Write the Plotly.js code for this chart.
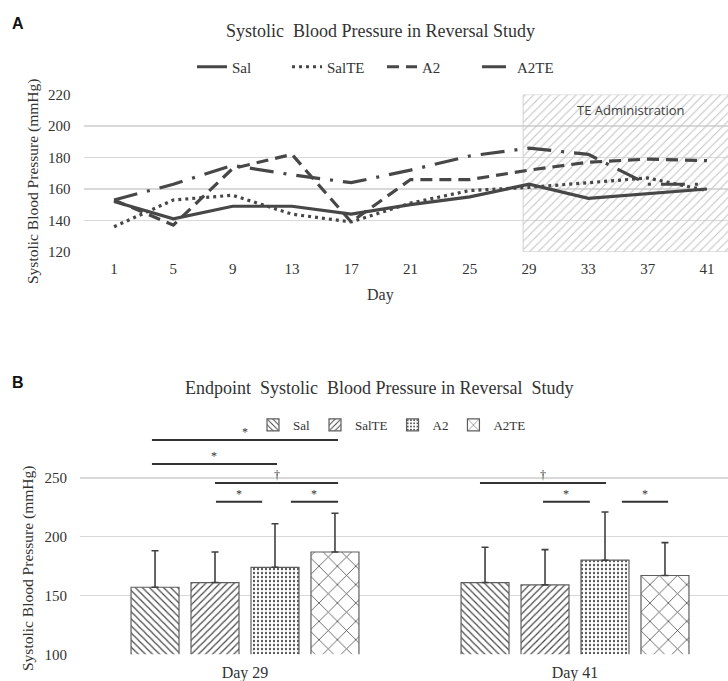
<!DOCTYPE html>
<html>
<head>
<meta charset="utf-8">
<script src="https://cdn.plot.ly/plotly-3.0.1.min.js"></script>
<style>html,body{margin:0;padding:0;background:#fff;}#chart{width:728px;height:681px;}</style>
</head>
<body>
<div id="chart"></div>
<script>
// ---------- Panel A data (line chart) ----------
const days   = [1, 5, 9, 13, 17, 21, 25, 29, 33, 37, 41];
const sal    = [152, 141, 149, 149, 144, 150, 155, 163, 154, 157, 160];
const salTE  = [136, 153, 156, 144, 139, 151, 159, 161, 164, 167, 159];
const a2     = [153, 137, 173, 182, 139, 166, 166, 172, 177, 179, 178];
const a2TE   = [153, 163, 175, 169, 164, 172, 181, 186, 182, 163, 163];
const teStartDay = 28.6;   // TE administration period begins at day 29
const seriesNames = ['Sal', 'SalTE', 'A2', 'A2TE'];

// ---------- Panel B data (bar chart) ----------
const groups    = ['Day 29', 'Day 41'];
const salBar    = [157, 161];
const salSD     = [31, 30];
const salTEBar  = [161, 159];
const salTESD   = [26, 30];
const a2Bar     = [174, 180];
const a2SD      = [37, 41];
const a2TEBar   = [187, 167];
const a2TESD    = [33, 28];

// significance brackets: [x0, x1, y, symbol] in panel-B axis units
const sigBrackets = [
  [-0.282, 0.282, 282.2, '*'],
  [-0.282, 0.097, 261.8, '*'],
  [-0.091, 0.282, 245.7, '†'],
  [-0.088, 0.052, 229.8, '*'],
  [ 0.139, 0.282, 229.8, '*'],
  [ 0.712, 1.094, 245.7, '†'],
  [ 0.903, 1.045, 229.8, '*'],
  [ 1.142, 1.282, 229.8, '*']
];

const SERIF = 'Liberation Serif';
const TXT = '#333333';
const LINEC = '#474747';

const traces = [];

// hatched TE administration box
traces.push({
  x: [teStartDay, 43, 43, teStartDay, teStartDay],
  y: [120, 120, 220, 220, 120],
  mode: 'lines', fill: 'toself',
  fillcolor: 'rgba(190,190,190,0.0)',
  fillpattern: {shape: '/', size: 6, solidity: 0.18, fgcolor: '#c4c4c4'},
  line: {color: '#d0d0d0', width: 1},
  xaxis: 'x', yaxis: 'y', showlegend: false, hoverinfo: 'skip'
});

const lineStyles = ['solid', '3px,4px', '12px,7px', '24px,10px,3px,10px'];
[sal, salTE, a2, a2TE].forEach((vals, i) => {
  traces.push({
    x: days, y: vals, name: seriesNames[i], mode: 'lines', type: 'scatter',
    line: {color: LINEC, width: 3.2, dash: lineStyles[i]},
    xaxis: 'x', yaxis: 'y', legend: 'legend'
  });
});

const barVals = [salBar, salTEBar, a2Bar, a2TEBar];
const barSD = [salSD, salTESD, a2SD, a2TESD];
const patterns = [
  {shape: '\\', size: 5, solidity: 0.25},
  {shape: '/', size: 5, solidity: 0.25},
  {shape: '.', size: 4, solidity: 0.25},
  {shape: 'x', size: 13, solidity: 0.12}
];
barVals.forEach((vals, i) => {
  traces.push({
    type: 'bar', x: groups, y: vals, name: seriesNames[i],
    marker: {color: '#ffffff',
      pattern: Object.assign({fgcolor: '#4a4a4a', bgcolor: '#ffffff', fillmode: 'replace'}, patterns[i]),
      line: {color: '#5e5e5e', width: 1.2}},
    error_y: {type: 'data', symmetric: false, array: barSD[i], arrayminus: [0, 0],
      color: '#404040', thickness: 1.6, width: 3.5},
    xaxis: 'x2', yaxis: 'y2', legend: 'legend2'
  });
});

const shapes = [];
const annotations = [];
sigBrackets.forEach(b => {
  shapes.push({type: 'line', xref: 'x2', yref: 'y2', x0: b[0], x1: b[1], y0: b[2], y1: b[2],
    line: {color: '#333333', width: 2}});
  annotations.push({xref: 'x2', yref: 'y2', x: (b[0] + b[1]) / 2, y: b[2], text: b[3],
    showarrow: false, xanchor: 'center', yanchor: 'bottom', yshift: -1,
    font: {family: SERIF, size: 12, color: '#333'}});
});

function px(x) { return x / 728; }
function py(y) { return (681 - y) / 681; }
function ann(x, y, text, font, extra) {
  return Object.assign({xref: 'paper', yref: 'paper', x: px(x), y: py(y), text: text,
    showarrow: false, xanchor: 'center', yanchor: 'middle', font: font}, extra || {});
}

annotations.push(
  ann(18, 23, '<b>A</b>', {family: 'Liberation Sans', size: 16, color: '#111'}),
  ann(18, 383, '<b>B</b>', {family: 'Liberation Sans', size: 16, color: '#111'}),
  ann(380, 31, 'Systolic  Blood Pressure in Reversal Study', {family: SERIF, size: 18, color: TXT}),
  ann(379, 388, 'Endpoint  Systolic  Blood Pressure in Reversal  Study', {family: SERIF, size: 18, color: TXT}),
  ann(33, 182, 'Systolic Blood Pressure (mmHg)', {family: SERIF, size: 15.5, color: TXT}, {textangle: -90}),
  ann(28, 569, 'Systolic Blood Pressure (mmHg)', {family: SERIF, size: 15.5, color: TXT}, {textangle: -90}),
  ann(380, 295, 'Day', {family: SERIF, size: 16, color: TXT}),
  ann(631, 110, 'TE Administration', {family: 'Open Sans', size: 13, color: '#404040'})
);

const layout = {
  width: 728, height: 681,
  margin: {l: 0, r: 0, t: 0, b: 0},
  paper_bgcolor: '#ffffff', plot_bgcolor: '#ffffff',
  font: {family: SERIF, color: TXT},
  showlegend: true,
  barmode: 'group', bargap: 0.273, bargroupgap: 0.2,
  xaxis: {domain: [px(84.4), 1], range: [-1, 42.42], anchor: 'y',
    tickvals: days, ticktext: days.map(String), showgrid: false, zeroline: false,
    showline: false, ticks: '', ticklabelstandoff: 6,
    tickfont: {family: SERIF, size: 15, color: TXT}},
  yaxis: {domain: [py(252), py(94.5)], range: [119.9, 220.1], anchor: 'x',
    tickvals: [120, 140, 160, 180, 200, 220], gridcolor: '#d9d9d9', gridwidth: 1.2,
    zeroline: false, showline: false, ticks: '', ticklabelstandoff: 13,
    tickfont: {family: SERIF, size: 15, color: TXT}},
  xaxis2: {domain: [px(80), 1], type: 'category', range: [-0.5, 1.4636], anchor: 'y2',
    showgrid: false, zeroline: false, showline: false, ticks: '', ticklabelstandoff: 7,
    tickfont: {family: SERIF, size: 16, color: TXT}},
  yaxis2: {domain: [py(654.3), py(419.1)], range: [100, 300], anchor: 'x2',
    tickvals: [100, 150, 200, 250], gridcolor: '#d9d9d9', gridwidth: 1.2,
    zeroline: false, showline: false, ticks: '', ticklabelstandoff: 12,
    tickfont: {family: SERIF, size: 15, color: TXT}},
  legend: {orientation: 'h', x: px(382), xanchor: 'center', y: py(67), yanchor: 'middle',
    font: {family: SERIF, size: 15, color: TXT}, bgcolor: 'rgba(0,0,0,0)',
    entrywidth: 50, entrywidthmode: 'pixels', traceorder: 'normal'},
  legend2: {orientation: 'h', x: px(392), xanchor: 'center', y: py(425), yanchor: 'middle',
    font: {family: SERIF, size: 13, color: TXT}, bgcolor: 'rgba(0,0,0,0)',
    itemwidth: 30, traceorder: 'normal'},
  shapes: shapes,
  annotations: annotations
};

Plotly.newPlot('chart', traces, layout, {displayModeBar: false, staticPlot: true});
</script>
</body>
</html>
